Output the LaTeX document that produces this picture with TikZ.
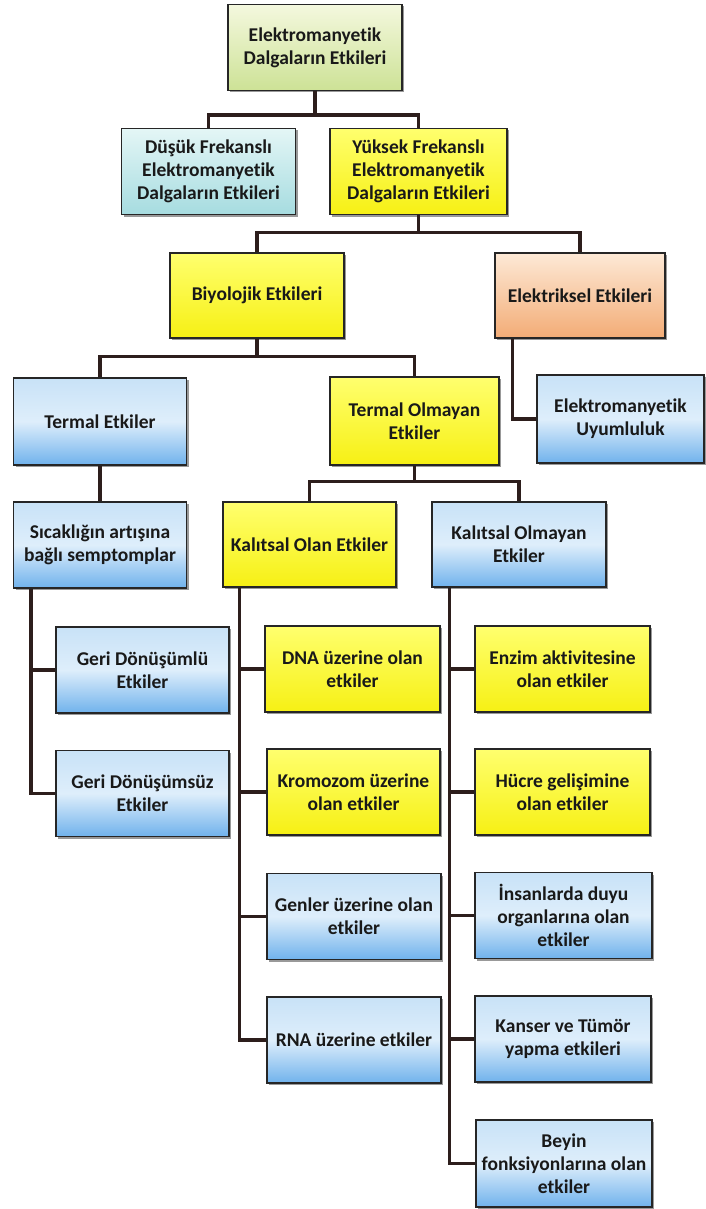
\documentclass[tikz,border=0pt]{standalone}
\usepackage{fontspec}
\setmainfont{Carlito}[Ligatures=NoCommon]
\usetikzlibrary{shadows}

\definecolor{lineclr}{RGB}{45,30,28}
\definecolor{bluetop}{RGB}{200,226,247}
\definecolor{bluemid}{RGB}{222,238,251}
\definecolor{bluebot}{RGB}{112,178,236}
\definecolor{yeltop}{RGB}{255,255,110}
\definecolor{yelbot}{RGB}{246,240,20}
\definecolor{cyantop}{RGB}{228,246,246}
\definecolor{cyanbot}{RGB}{166,220,224}
\definecolor{limetop}{RGB}{244,248,222}
\definecolor{limebot}{RGB}{205,226,150}
\definecolor{peachtop}{RGB}{253,233,214}
\definecolor{peachbot}{RGB}{243,172,118}

\begin{document}
\begin{tikzpicture}[x=1pt, y=-1pt, every node/.style={font=\bfseries\fontsize{19.5}{23}\selectfont},
	box/.style={draw=black!85, line width=1.2pt, minimum width=174pt, minimum height=86pt, inner sep=2pt, align=center, text=black!90, drop shadow={shadow xshift=2pt, shadow yshift=-2pt, fill=black, opacity=.4}},
	bl/.style={box, top color=bluetop, bottom color=bluebot, middle color=bluemid},
	yl/.style={box, top color=yeltop, bottom color=yelbot},
	cy/.style={box, top color=cyantop, bottom color=cyanbot},
	lm/.style={box, top color=limetop, bottom color=limebot},
	pc/.style={box, top color=peachtop, bottom color=peachbot},
	conn/.style={draw=lineclr, line width=3.8pt}]
	\path[use as bounding box, fill=white] (0,0) rectangle (705,1209);
	% upper levels
	\node[lm] (top) at (315,47.5) {Elektromanyetik\\Dalgaların Etkileri};
	\node[cy] (low) at (208.5,171.5) {Düşük Frekanslı\\Elektromanyetik\\Dalgaların Etkileri};
	\node[yl, minimum width=177pt] (high) at (418.5,171.5) {Yüksek Frekanslı\\Elektromanyetik\\Dalgaların Etkileri};
	\node[yl, minimum height=85pt] (bio) at (257,295.5) {Biyolojik Etkileri};
	\node[pc, minimum width=170pt, minimum height=85pt] (elec) at (580,295.5) {Elektriksel Etkileri};
	\node[bl, minimum width=173pt, minimum height=87pt] (therm) at (100,421.5) {Termal Etkiler};
	\node[yl, minimum width=169pt, minimum height=88pt] (nontherm) at (414.5,421) {Termal Olmayan\\Etkiler};
	\node[bl, minimum width=167pt, minimum height=88pt] (emc) at (620.5,419) {Elektromanyetik\\Uyumluluk};
	\node[bl, minimum width=173pt] (heat) at (100,545) {Sıcaklığın artışına\\bağlı semptomplar};
	\node[yl, minimum width=173pt, minimum height=85pt] (gen) at (309.5,544.5) {Kalıtsal Olan Etkiler};
	\node[bl, minimum height=85pt] (nongen) at (519,544.5) {Kalıtsal Olmayan\\Etkiler};
	% lower columns
	\node[bl, minimum width=173pt] (rev) at (142.5,670) {Geri Dönüşümlü\\Etkiler};
	\node[bl, minimum width=173pt] (irrev) at (142.5,793.5) {Geri Dönüşümsüz\\Etkiler};
	\node[yl, minimum width=175pt] (dna) at (352.5,669) {DNA üzerine olan\\etkiler};
	\node[yl, minimum width=173pt] (chrom) at (353.5,792) {Kromozom üzerine\\olan etkiler};
	\node[bl] (genes) at (354,916.5) {Genler üzerine olan\\etkiler};
	\node[bl] (rna) at (354,1040) {RNA üzerine etkiler};
	\node[yl, minimum width=175pt] (enz) at (562.5,669) {Enzim aktivitesine\\olan etkiler};
	\node[yl, minimum width=175pt] (cell) at (562.5,792) {Hücre gelişimine\\olan etkiler};
	\node[bl, minimum width=177pt] (sense) at (563.5,915.5) {İnsanlarda duyu\\organlarına olan\\etkiler};
	\node[bl, minimum width=176pt] (cancer) at (563,1039) {Kanser ve Tümör\\yapma etkileri};
	\node[bl, minimum width=176pt, minimum height=87pt] (brain) at (564,1163.5) {Beyin\\fonksiyonlarına olan\\etkiler};
	% connectors
	\draw[conn] (top.south) -- ++(0,25);
	\draw[conn] (low.north) -- ++(0,-13) -| (high.north);
	\draw[conn] (high.south) -- ++(0,18);
	\draw[conn] (bio.north) -- ++(0,-20) -| (elec.north);
	\draw[conn] (bio.south) -- ++(0,19);
	\draw[conn] (therm.north) -- ++(0,-21) -| (nontherm.north);
	\draw[conn] ([xshift=18pt]elec.south west) |- (emc.west);
	\draw[conn] (therm.south) -- (heat.north);
	\draw[conn] (nontherm.south) -- ++(0,17);
	\draw[conn] (gen.north) -- ++(0,-20) -| (nongen.north);
	\coordinate (hs) at ([xshift=18pt]heat.south west);
	\coordinate (gs) at ([xshift=17pt]gen.south west);
	\coordinate (ns) at ([xshift=18pt]nongen.south west);
	\foreach \n in {rev,irrev} {\draw[conn] (hs) |- (\n.west);}
	\foreach \n in {dna,chrom,genes,rna} {\draw[conn] (gs) |- (\n.west);}
	\foreach \n in {enz,cell,sense,cancer,brain} {\draw[conn] (ns) |- (\n.west);}
\end{tikzpicture}
\end{document}
